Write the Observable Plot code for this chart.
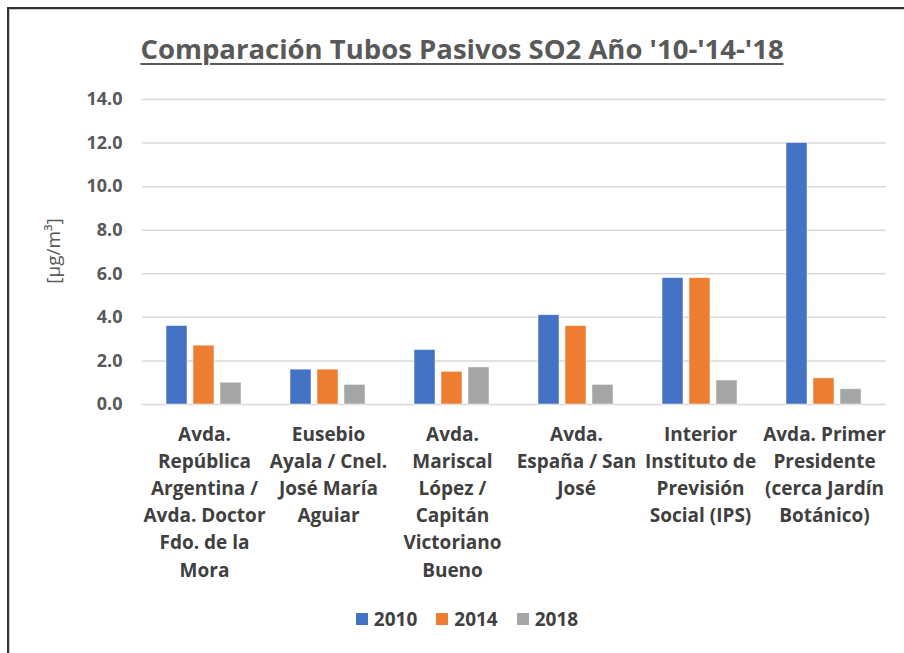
<!DOCTYPE html>
<html>
<head>
<meta charset="utf-8">
<script src="https://cdn.jsdelivr.net/npm/d3@7"></script>
<script src="https://cdn.jsdelivr.net/npm/@observablehq/plot@0.6"></script>
<style>
  html, body { margin: 0; padding: 0; background: #fff; width: 904px; height: 653px; overflow: hidden; }
  #frame { position: absolute; left: 7px; top: 7px; width: 910px; height: 660px; border-left: 2px solid #333; border-top: 2px solid #333; box-shadow: inset 1px 1px 0 #ccc; }
  #title { position: absolute; left: 0; width: 924px; top: 30px; text-align: center; font-family: "Open Sans", sans-serif; font-weight: 700; font-size: 27.5px; color: #595959; text-decoration: underline; text-underline-offset: 4px; text-decoration-thickness: 2px; }
  #chart { position: absolute; left: 0; top: 75px; }
  #ylabel { position: absolute; left: 53px; top: 251px; transform: translate(-50%, -50%) rotate(-90deg); font-family: "Open Sans", sans-serif; font-size: 19px; color: #595959; white-space: nowrap; }
  #legend { position: absolute; left: 0; width: 934px; top: 606px; display: flex; justify-content: center; gap: 19px; font-family: "Open Sans", sans-serif; font-weight: 700; font-size: 19px; color: #404040; }
  #legend span { display: inline-flex; align-items: center; }
  #legend i { display: inline-block; width: 12px; height: 12px; margin-right: 6px; }
</style>
</head>
<body>
<div id="frame"></div>
<div id="title">Comparación Tubos Pasivos SO2 Año '10-'14-'18</div>
<div id="chart"></div>
<div id="ylabel">[µg/m³]</div>
<div id="legend"></div>
<script>
const sites = [
  "Avda.\nRepública\nArgentina /\nAvda. Doctor\nFdo. de la\nMora",
  "Eusebio\nAyala / Cnel.\nJosé María\nAguiar",
  "Avda.\nMariscal\nLópez /\nCapitán\nVictoriano\nBueno",
  "Avda.\nEspaña / San\nJosé",
  "Interior\nInstituto de\nPrevisión\nSocial (IPS)",
  "Avda. Primer\nPresidente\n(cerca Jardín\nBotánico)"
];
const years = ["2010", "2014", "2018"];
const values2010 = [3.6, 1.6, 2.5, 4.1, 5.8, 12.0];
const values2014 = [2.7, 1.6, 1.5, 3.6, 5.8, 1.2];
const values2018 = [1.0, 0.9, 1.7, 0.9, 1.1, 0.7];
const colors = ["#4472C4", "#ED7D31", "#A5A5A5"];
const yTicks = [0, 2, 4, 6, 8, 10, 12, 14];

const series = [values2010, values2014, values2018];
const data = [];
sites.forEach((s, i) => years.forEach((y, j) => data.push({site: s, year: y, value: series[j][i]})));

const chart = Plot.plot({
  width: 904,
  height: 520,
  marginTop: 24,
  marginBottom: 191,
  marginLeft: 140,
  marginRight: 16,
  style: {fontFamily: "Open Sans, sans-serif", fontSize: "18px", fontWeight: "700", color: "#595959", background: "transparent"},
  fx: {domain: sites, padding: 0, axis: null},
  x: {domain: years, paddingInner: 0.21, paddingOuter: 0.83, axis: null},
  y: {domain: [0, 14], ticks: yTicks, tickFormat: d => d.toFixed(1), tickSize: 0, tickPadding: 20, label: null},
  color: {domain: years, range: colors},
  marks: [
    Plot.ruleY(yTicks, {y: d => d, stroke: "#d9d9d9", strokeWidth: 1.5}),
    Plot.barY(data, {fx: "site", x: "year", y: "value", fill: "year", stroke: "#fff", strokeWidth: 0.8, strokeOpacity: 0.6}),
    Plot.text(sites, {fx: d => d, text: d => d, frameAnchor: "bottom", lineAnchor: "top", dy: 17, lineHeight: 1.43, fill: "#404040", fontSize: 19, fontWeight: 700})
  ]
});
document.getElementById("chart").appendChild(chart);

const legend = document.getElementById("legend");
years.forEach((y, j) => {
  const s = document.createElement("span");
  s.innerHTML = `<i style="background:${colors[j]}"></i>${y}`;
  legend.appendChild(s);
});
</script>
</body>
</html>
